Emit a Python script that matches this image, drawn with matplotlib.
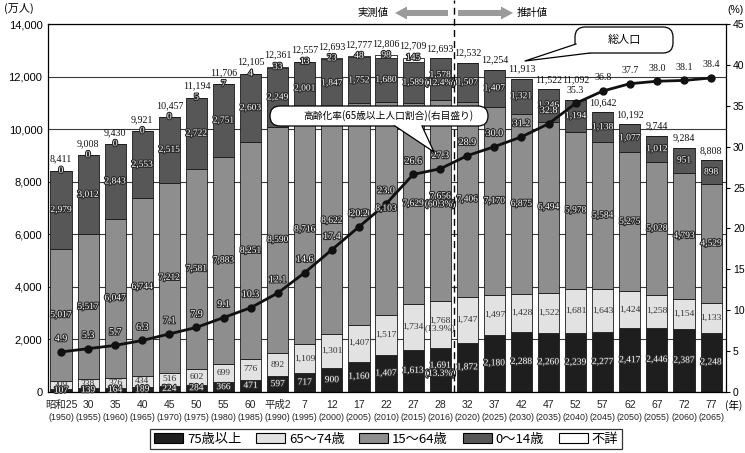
import matplotlib
matplotlib.use("Agg")
import matplotlib.pyplot as plt
import matplotlib.patheffects as pe
import matplotlib.transforms as mtransforms
from matplotlib.patches import Patch, FancyBboxPatch, Polygon, FancyArrow
from matplotlib.ticker import FuncFormatter
import numpy as np

plt.rcParams['font.family'] = ['Liberation Sans', 'Noto Sans CJK JP', 'DejaVu Sans']
JP = ['Noto Sans CJK JP', 'DejaVu Sans']
SERIF = ['Liberation Serif', 'DejaVu Serif']

# data (万人, %)
era = ['昭和25', '30', '35', '40', '45', '50', '55', '60', '平成2', '7', '12', '17', '22',
       '27', '28', '32', '37', '42', '47', '52', '57', '62', '67', '72', '77']
years = ['1950', '1955', '1960', '1965', '1970', '1975', '1980', '1985', '1990', '1995',
         '2000', '2005', '2010', '2015', '2016', '2020', '2025', '2030', '2035', '2040',
         '2045', '2050', '2055', '2060', '2065']
age75 = [107, 139, 164, 189, 224, 284, 366, 471, 597, 717, 900, 1160, 1407, 1613, 1691,
         1872, 2180, 2288, 2260, 2239, 2277, 2417, 2446, 2387, 2248]
age65 = [309, 338, 376, 434, 516, 602, 699, 776, 892, 1109, 1301, 1407, 1517, 1734, 1768,
         1747, 1497, 1428, 1522, 1681, 1643, 1424, 1258, 1154, 1133]
age15 = [5017, 5517, 6047, 6744, 7212, 7581, 7883, 8251, 8590, 8716, 8622, 8409, 8103,
         7629, 7656, 7406, 7170, 6875, 6494, 5978, 5584, 5275, 5028, 4793, 4529]
age0 = [2979, 3012, 2843, 2553, 2515, 2722, 2751, 2603, 2249, 2001, 1847, 1752, 1680,
        1589, 1578, 1507, 1407, 1321, 1246, 1194, 1138, 1077, 1012, 951, 898]
unknown = [0, 0, 0, 0, 0, 5, 7, 4, 33, 13, 23, 48, 98, 145] + [None] * 11
total = [8411, 9008, 9430, 9921, 10457, 11194, 11706, 12105, 12361, 12557, 12693, 12777,
         12806, 12709, 12693, 12532, 12254, 11913, 11522, 11092, 10642, 10192, 9744,
         9284, 8808]
rate = [4.9, 5.3, 5.7, 6.3, 7.1, 7.9, 9.1, 10.3, 12.1, 14.6, 17.4, 20.2, 23.0, 26.6, 27.3,
        28.9, 30.0, 31.2, 32.8, 35.3, 36.8, 37.7, 38.0, 38.1, 38.4]
# 2016 shares
share2016 = {'age0': '12.4%', 'age15': '60.3%', 'age65': '13.9%', 'age75': '13.3%'}

colors = {'age75': '#1e1e1e', 'age65': '#e2e2e2', 'age15': '#8e8e8e', 'age0': '#575757',
          'unk': '#ffffff'}

W, H = 745, 453
fig = plt.figure(figsize=(W / 100, H / 100), dpi=100)
ax = fig.add_axes([48 / W, 1 - 392 / H, (726 - 48) / W, 368 / H])
ax2 = ax.twinx()
ax2.set_zorder(ax.get_zorder() + 1)
ax2.patch.set_visible(False)

x = np.arange(len(years))
bw = 0.78
unk_h = [u if u else 0 for u in unknown]
bottom = np.zeros(len(x))
segs = {}
for key, vals in [('age75', age75), ('age65', age65), ('age15', age15), ('age0', age0),
                  ('unk', unk_h)]:
    ax.bar(x, vals, bw, bottom=bottom, color=colors[key], edgecolor='#1a1a1a',
           linewidth=0.6, zorder=2)
    segs[key] = (bottom.copy(), np.array(vals, dtype=float))
    bottom = bottom + np.array(vals)

ax.set_xlim(-0.48, 24.55)
ax.set_ylim(0, 14000)
ax.set_yticks(range(0, 14001, 2000))
ax.yaxis.set_major_formatter(FuncFormatter(lambda v, p: f'{int(v):,}'))
ax.yaxis.grid(True, color='#3a3a3a', lw=0.8)
ax.set_axisbelow(True)
ax.tick_params(axis='y', length=0, labelsize=8, pad=4)
ax.set_xticks(x)
ax.set_xticklabels([])
yr_tr = mtransforms.blended_transform_factory(ax.transData, fig.transFigure)
for i in range(len(x)):
    ax.text(x[i], 1 - 405 / H, era[i], transform=yr_tr, ha='center', va='center',
            fontsize=7.5, color='#222222', clip_on=False)
    ax.text(x[i], 1 - 417 / H, f'({years[i]})', transform=yr_tr, ha='center',
            va='center', fontsize=6.4, color='#222222', clip_on=False)
ax.tick_params(axis='x', length=0)
for s in ['left', 'top', 'bottom']:
    ax.spines[s].set_linewidth(0.9)
ax.spines['right'].set_visible(False)

ax2.set_ylim(0, 45)
ax2.set_yticks(range(0, 46, 5))
ax2.tick_params(axis='y', length=3, labelsize=7.5, pad=2)
for s in ['left', 'top', 'bottom']:
    ax2.spines[s].set_visible(False)
ax2.spines['right'].set_linewidth(0.9)
ax2.plot(x, rate, '-o', color='#111111', lw=2, ms=5, zorder=3)

# bar labels
outline = [pe.withStroke(linewidth=1.6, foreground='#2a2a2a')]
for key in ['age75', 'age65', 'age15', 'age0']:
    bots, hs = segs[key]
    for i in range(len(x)):
        txt = f'{int(hs[i]):,}'
        if i == 14:
            txt += f'\n({share2016[key]})'
        yc = bots[i] + hs[i] / 2
        if key == 'age65':
            ax2.text(x[i], yc, txt, transform=ax.transData, ha='center', va='center',
                     fontsize=6.8, family=SERIF, color='#333333', zorder=6, linespacing=1.0)
        else:
            ax2.text(x[i], yc, txt, transform=ax.transData, ha='center', va='center',
                     fontsize=6.8, family=SERIF, color='white', zorder=6,
                     path_effects=outline, linespacing=1.0)

rate_lab_y = [r / 45 * 14000 + 495 for r in rate]  # approx label height in 万人 units
for i in range(len(x)):
    if unknown[i] is not None:
        ax2.text(x[i], total[i], f'{unknown[i]}', transform=ax.transData, ha='center',
                 va='center', fontsize=6.8, family=SERIF, color='white', zorder=6,
                 path_effects=outline)
        off = 8.5
    else:
        off = 7
    if rate_lab_y[i] > total[i] and abs(rate_lab_y[i] - (total[i] + 380)) < 400:
        off = 15
    ax2.annotate(f'{total[i]:,}', (x[i], total[i]), xycoords=ax.transData,
                 xytext=(0, off), textcoords='offset points', ha='center', va='center',
                 fontsize=7.2, family=SERIF, color='#111111', zorder=6)

for i in range(len(x)):
    above = rate_lab_y[i] > total[i]
    kw = dict(color='#111111') if above else dict(color='white', path_effects=outline)
    ax2.annotate(f'{rate[i]:.1f}', (x[i], rate[i]), xytext=(0, 9.5),
                 textcoords='offset points', ha='center', va='center', fontsize=7.2,
                 family=SERIF, zorder=6, **kw)

# observed / projected divider
ax2.axvline(14.5, ymin=0, ymax=1.065, clip_on=False, color='black', lw=1,
            ls=(0, (5, 3)), zorder=7)

# overlay in pixel coords for annotations
ov = fig.add_axes([0, 0, 1, 1], zorder=20)
ov.set_xlim(0, W)
ov.set_ylim(H, 0)
ov.axis('off')
ov.patch.set_visible(False)

ov.add_patch(FancyArrow(448, 13, -41, 0, width=6, head_width=13, head_length=12,
                        length_includes_head=False, color='#9a9a9a', lw=0))
ov.add_patch(FancyArrow(458, 13, 43, 0, width=6, head_width=13, head_length=12,
                        length_includes_head=False, color='#9a9a9a', lw=0))
ov.text(389, 13, '実測値', ha='right', va='center', fontsize=7.5, family=JP)
ov.text(517, 13, '推計値', ha='left', va='center', fontsize=7.5, family=JP)

# callout: aging rate
ov.add_patch(FancyBboxPatch((270, 106), 218, 20, boxstyle='round,pad=0,rounding_size=10',
                            fc='white', ec='black', lw=0.9))
ov.add_patch(Polygon([(395, 126), (395, 123), (422, 123), (422, 126), (434, 152)],
                     closed=True, fc='white', ec='none'))
ov.plot([395, 434, 422], [126, 152, 126], color='black', lw=0.9)
ov.text(388, 116, '高齢化率(65歳以上人口割合)(右目盛り)', ha='center', va='center',
        fontsize=7, family=JP)

# callout: total population
ov.add_patch(FancyBboxPatch((575, 27), 98, 26, boxstyle='round,pad=0,rounding_size=10',
                            fc='white', ec='black', lw=0.9))
ov.add_patch(Polygon([(576, 44), (579, 41), (592, 50), (590, 53), (525, 61)],
                     closed=True, fc='white', ec='none'))
ov.plot([576, 525, 590], [44, 61, 53], color='black', lw=0.9)
ov.text(624, 40, '総人口', ha='center', va='center', fontsize=8, family=JP)

# unit labels
ov.text(4, 8, '(万人)', ha='left', va='center', fontsize=8, family=JP)
ov.text(727, 10, '(%)', ha='left', va='center', fontsize=7.5)
ov.text(725, 405, '(年)', ha='left', va='center', fontsize=7.5, family=JP)

# legend
handles = [Patch(fc=colors['age75'], ec='black', lw=0.8, label='75歳以上'),
           Patch(fc=colors['age65'], ec='black', lw=0.8, label='65～74歳'),
           Patch(fc=colors['age15'], ec='black', lw=0.8, label='15～64歳'),
           Patch(fc=colors['age0'], ec='black', lw=0.8, label='0～14歳'),
           Patch(fc=colors['unk'], ec='black', lw=0.8, label='不詳')]
leg = fig.legend(handles=handles, loc='center', bbox_to_anchor=(386 / W, 1 - 439 / H),
                 ncol=5, frameon=True, fancybox=False, edgecolor='black',
                 prop={'family': JP, 'size': 9.5}, handlelength=2.2, handleheight=0.8,
                 handletextpad=0.3, columnspacing=1.1, borderpad=0.3)
leg.get_frame().set_linewidth(0.9)

fig.savefig('out.png', dpi=100)
